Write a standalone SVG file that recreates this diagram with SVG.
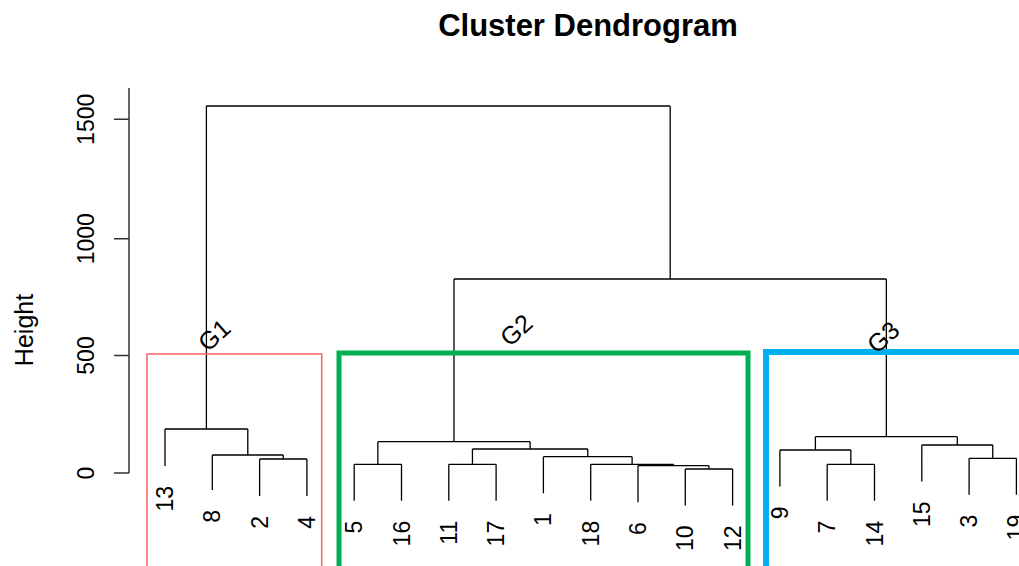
<svg xmlns="http://www.w3.org/2000/svg" width="1019" height="566" viewBox="0 0 1019 566">
<style>
.t{font-family:"Liberation Sans",Arial,sans-serif;fill:#000}
.title{font-size:31px;font-weight:bold}
.ax{font-size:23px}
.lf{font-size:23px}
.g{font-size:25px}
.br{fill:none;stroke:#000;stroke-width:1.3}
.axis{fill:none;stroke:#333;stroke-width:1.5}
</style>
<rect width="1019" height="566" fill="#fff"/>
<text class="t title" x="588" y="36" text-anchor="middle">Cluster Dendrogram</text>
<g id="axis">
<path class="axis" d="M129,88V473M114,119.3H129M114,238.7H129M114,355.5H129M114,473H129"/>
<text class="t ax" transform="translate(94,119.3) rotate(-90)" text-anchor="middle">1500</text>
<text class="t ax" transform="translate(94,238.7) rotate(-90)" text-anchor="middle">1000</text>
<text class="t ax" transform="translate(94,355.5) rotate(-90)" text-anchor="middle">500</text>
<text class="t ax" transform="translate(94,473) rotate(-90)" text-anchor="middle">0</text>
<text class="t" font-size="25" transform="translate(33,330) rotate(-90)" text-anchor="middle">Height</text>
</g>
<g id="connectors">
<path class="br" d="M206.4,106H670.2M206.4,106V429M670.2,106V279
M165,429H247.8M165,429V466M247.8,429V455
M212.3,455H283.25M212.3,455V490M283.25,455V459
M259.6,459H306.9M259.6,459V496M306.9,459V496
M453.98,279H886.35M453.98,279V441.7M886.35,279V436.7
M377.85,441.7H530.1M377.85,441.7V464.3M530.1,441.7V449
M354.2,464.3H401.5M354.2,464.3V500.8M401.5,464.3V500.8
M472.45,449H587.75M472.45,449V464.3M587.75,449V456.7
M448.8,464.3H496.1M448.8,464.3V500.8M496.1,464.3V500.8
M543.4,456.7H632.1M543.4,456.7V493.2M632.1,456.7V464.3
M590.7,464.3H673.5M590.7,464.3V500.8M673.5,464.3V465.7
M638,465.7H708.95M638,465.7V502.2M708.95,465.7V469
M685.3,469H732.6M685.3,469V505.5M732.6,469V505.5
M815.4,436.7H957.3M815.4,436.7V450M957.3,436.7V445
M779.9,450H850.85M779.9,450V486.5M850.85,450V464.3
M827.2,464.3H874.5M827.2,464.3V500.8M874.5,464.3V500.8
M921.8,445H992.75M921.8,445V481.5M992.75,445V458.3
M969.1,458.3H1016.4M969.1,458.3V494.8M1016.4,458.3V494.8"/>
</g>
<g id="leaves">
<text class="t lf" transform="translate(173,486) rotate(-90)" text-anchor="end">13</text>
<text class="t lf" transform="translate(220.3,510) rotate(-90)" text-anchor="end">8</text>
<text class="t lf" transform="translate(267.6,516) rotate(-90)" text-anchor="end">2</text>
<text class="t lf" transform="translate(314.9,516) rotate(-90)" text-anchor="end">4</text>
<text class="t lf" transform="translate(362.2,520.8) rotate(-90)" text-anchor="end">5</text>
<text class="t lf" transform="translate(409.5,520.8) rotate(-90)" text-anchor="end">16</text>
<text class="t lf" transform="translate(456.8,520.8) rotate(-90)" text-anchor="end">11</text>
<text class="t lf" transform="translate(504.1,520.8) rotate(-90)" text-anchor="end">17</text>
<text class="t lf" transform="translate(551.4,513.2) rotate(-90)" text-anchor="end">1</text>
<text class="t lf" transform="translate(598.7,520.8) rotate(-90)" text-anchor="end">18</text>
<text class="t lf" transform="translate(646,522.2) rotate(-90)" text-anchor="end">6</text>
<text class="t lf" transform="translate(693.3,525.5) rotate(-90)" text-anchor="end">10</text>
<text class="t lf" transform="translate(740.6,525.5) rotate(-90)" text-anchor="end">12</text>
<text class="t lf" transform="translate(787.9,506.5) rotate(-90)" text-anchor="end">9</text>
<text class="t lf" transform="translate(835.2,520.8) rotate(-90)" text-anchor="end">7</text>
<text class="t lf" transform="translate(882.5,520.8) rotate(-90)" text-anchor="end">14</text>
<text class="t lf" transform="translate(929.8,501.5) rotate(-90)" text-anchor="end">15</text>
<text class="t lf" transform="translate(977.1,514.8) rotate(-90)" text-anchor="end">3</text>
<text class="t lf" transform="translate(1024.4,514.8) rotate(-90)" text-anchor="end">19</text>
</g>
<g id="G1">
<rect x="147" y="354" width="174.7" height="240" fill="none" stroke="#ff6060" stroke-width="1.5"/>
<text class="t g" transform="translate(214,335) rotate(-42)" text-anchor="middle" dominant-baseline="central">G1</text>
</g>
<g id="G2">
<rect x="339" y="353" width="409" height="240" fill="none" stroke="#00b050" stroke-width="5"/>
<text class="t g" transform="translate(516,330) rotate(-42)" text-anchor="middle" dominant-baseline="central">G2</text>
</g>
<g id="G3">
<rect x="766" y="352" width="300" height="240" fill="none" stroke="#00b0f0" stroke-width="6"/>
<text class="t g" transform="translate(883,337) rotate(-42)" text-anchor="middle" dominant-baseline="central">G3</text>
</g>
</svg>
